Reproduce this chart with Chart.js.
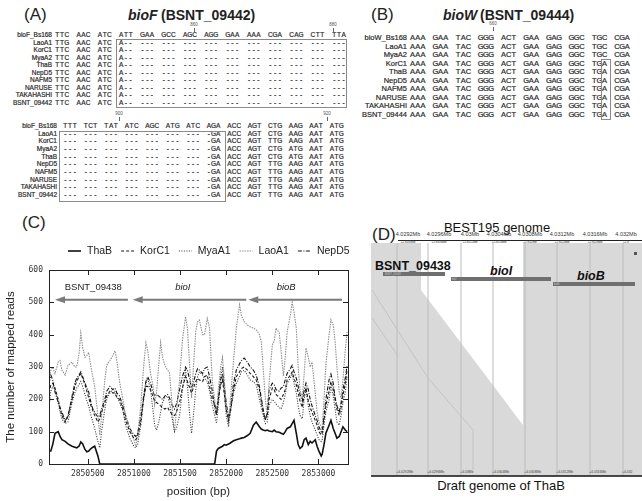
<!DOCTYPE html>
<html>
<head>
<meta charset="utf-8">
<script src="https://cdn.jsdelivr.net/npm/chart.js@4.4.0/dist/chart.umd.min.js"></script>
<style>
  body { margin: 0; width: 642px; height: 501px; background: #fff; position: relative; overflow: hidden;
         font-family: "Liberation Sans", Arial, sans-serif; color: #222; }
  .t { position: absolute; white-space: nowrap; line-height: 1; }
  .seq { color: #2a2a2a; -webkit-text-stroke: 0.2px #2a2a2a; }
  .box { position: absolute; border: 1.2px solid #8a8a8a; box-sizing: border-box; }
  #chartC { position: absolute; left: 0; top: 240px; }
  #panelD { position: absolute; left: 0; top: 0; }
</style>
</head>
<body>
<div id="aln"></div>
<svg id="panelD" width="642" height="501"></svg>
<canvas id="chartC" width="360" height="261"></canvas>
<script>
/* ---------- PANEL C DATA ---------- */
const positions = [
  2850080, 2850100, 2850120, 2850145, 2850180, 2850200, 2850220, 2850255, 2850285, 2850330,
  2850360, 2850380, 2850405, 2850425, 2850445, 2850470, 2850490, 2850510, 2850535, 2850555,
  2850575, 2850610, 2850630, 2850650, 2850685, 2850705, 2850740, 2850770, 2850795, 2850815,
  2850845, 2850880, 2850910, 2850955, 2851000, 2851020, 2851040, 2851075, 2851105, 2851130,
  2851150, 2851180, 2851205, 2851225, 2851245, 2851270, 2851290, 2851310, 2851335, 2851365,
  2851385, 2851410, 2851430, 2851440, 2851460, 2851495, 2851525, 2851560, 2851580, 2851605,
  2851625, 2851645, 2851670, 2851690, 2851710, 2851745, 2851765, 2851795, 2851820, 2851850,
  2851875, 2851895, 2851915, 2851940, 2851960, 2851980, 2852000, 2852025, 2852045, 2852080,
  2852110, 2852145, 2852165, 2852195, 2852230, 2852260, 2852295, 2852325, 2852360, 2852380,
  2852400, 2852425, 2852445, 2852465, 2852500, 2852520, 2852540, 2852575, 2852595, 2852620,
  2852640, 2852660, 2852695, 2852715, 2852735, 2852760, 2852780, 2852800, 2852825, 2852845,
  2852865, 2852890, 2852910, 2852930, 2852965, 2852985, 2853005, 2853030, 2853040, 2853060,
  2853080, 2853115, 2853135, 2853160, 2853180, 2853200, 2853225, 2853245, 2853265, 2853290, 2853310
];
const thaB = [
  40, 40, 60, 95, 100, 85, 75, 70, 62, 55,
  52, 50, 55, 68, 62, 45, 38, 40, 48, 52,
  55, 25, 0, 0, 0, 0, 0, 0, 0, 0,
  0, 0, 0, 0, 0, 0, 0, 0, 0, 0,
  0, 0, 0, 0, 0, 0, 0, 0, 0, 0,
  0, 0, 0, 0, 0, 0, 0, 0, 0, 0,
  0, 0, 0, 0, 0, 0, 0, 0, 0, 0,
  0, 40, 48, 52, 55, 60, 58, 62, 65, 72,
  75, 78, 80, 82, 88, 95, 120, 130, 115, 108,
  105, 103, 105, 102, 100, 105, 100, 98, 95, 92,
  100, 110, 115, 125, 135, 95, 60, 48, 55, 75,
  80, 60, 70, 65, 75, 55, 40, 25, 30, 60,
  95, 120, 135, 110, 95, 80, 85, 100, 115, 105, 100
];
const korC1 = [
  220, 245, 250, 235, 200, 170, 150, 130, 150, 200,
  240, 255, 270, 280, 265, 245, 225, 205, 180, 165,
  150, 130, 140, 160, 190, 210, 225, 220, 220, 205,
  200, 170, 135, 100, 80, 75, 85, 130, 200, 240,
  240, 230, 210, 195, 190, 185, 180, 175, 170, 175,
  165, 155, 150, 150, 160, 190, 235, 270, 255, 235,
  220, 235, 255, 265, 260, 255, 270, 275, 240, 200,
  185, 160, 200, 245, 260, 215, 170, 135, 160, 230,
  270, 285, 295, 300, 290, 280, 270, 260, 230, 195,
  160, 140, 150, 200, 235, 230, 215, 205, 200, 215,
  230, 260, 275, 285, 265, 245, 220, 195, 175, 215,
  235, 195, 175, 160, 135, 120, 100, 90, 95, 135,
  180, 225, 255, 230, 200, 170, 150, 175, 210, 250, 290
];
const myaA1 = [
  180, 225, 240, 230, 190, 160, 140, 125, 130, 190,
  220, 235, 245, 255, 240, 215, 195, 180, 150, 130,
  110, 70, 50, 100, 170, 200, 220, 230, 225, 210,
  190, 165, 120, 80, 55, 50, 60, 120, 200, 250,
  265, 230, 170, 120, 105, 130, 160, 190, 205, 210,
  190, 150, 115, 100, 110, 150, 230, 290, 240, 150,
  95, 150, 230, 270, 285, 275, 265, 255, 225, 180,
  150, 125, 180, 270, 300, 220, 150, 115, 160, 220,
  250, 270, 285, 290, 275, 260, 255, 245, 200, 175,
  150, 125, 130, 180, 200, 195, 185, 175, 170, 190,
  215, 250, 265, 280, 250, 220, 180, 150, 140, 200,
  230, 180, 150, 130, 105, 90, 75, 70, 75, 120,
  160, 200, 240, 210, 170, 130, 120, 150, 190, 220, 270
];
const laoA1 = [
  265, 290, 300, 280, 315, 320, 290, 275, 305, 315,
  300, 300, 340, 405, 360, 330, 335, 345, 300, 270,
  240, 150, 90, 150, 260, 306, 320, 335, 350, 320,
  254, 200, 150, 110, 75, 55, 90, 180, 300, 375,
  350, 280, 245, 183, 220, 310, 375, 330, 306, 290,
  285, 200, 120, 105, 160, 260, 380, 456, 420, 300,
  204, 300, 410, 440, 445, 400, 400, 450, 420, 254,
  200, 157, 230, 300, 330, 260, 180, 130, 200, 320,
  420, 492, 460, 440, 430, 424, 420, 415, 400, 378,
  300, 200, 147, 250, 368, 380, 420, 405, 350, 272,
  330, 408, 460, 500, 470, 420, 300, 230, 204, 280,
  359, 330, 300, 315, 220, 160, 130, 115, 111, 200,
  306, 400, 446, 430, 380, 300, 223, 204, 260, 350, 408
];
const nepD5 = [
  250, 275, 260, 223, 190, 175, 160, 135, 145, 210,
  250, 265, 275, 285, 270, 250, 235, 223, 190, 170,
  160, 145, 150, 170, 200, 225, 240, 230, 235, 220,
  210, 180, 150, 110, 90, 85, 95, 145, 210, 255,
  270, 250, 225, 210, 215, 210, 205, 200, 210, 215,
  205, 185, 175, 170, 185, 230, 270, 300, 290, 260,
  235, 250, 280, 295, 290, 280, 295, 300, 270, 225,
  175, 150, 200, 260, 280, 240, 190, 145, 170, 250,
  290, 310, 320, 328, 315, 300, 290, 275, 240, 205,
  170, 135, 160, 230, 250, 245, 230, 225, 235, 240,
  260, 280, 295, 305, 285, 265, 240, 215, 195, 230,
  250, 230, 200, 180, 150, 135, 115, 100, 105, 150,
  200, 260, 278, 250, 205, 180, 160, 190, 230, 265, 305
];
const seriesNames = ["ThaB", "KorC1", "MyaA1", "LaoA1", "NepD5"];
const xTicks = [2850500, 2851000, 2851500, 2852000, 2852500, 2853000];
const yTicks = [0, 100, 200, 300, 400, 500, 600];
// gene arrows (head at the left = lower coordinate)
const geneNames = ["BSNT_09438", "bioI", "bioB"];
const geneTail = [2850935, 2852218, 2853255];
const geneHead = [2850145, 2850987, 2852240];
const geneLabelAt = [2850560, 2851530, 2852650];
const geneArrowY = 508;
const geneLabelY = 545;

/* ---------- PANEL A / B TEXT ---------- */
const namesA = ["bioF_Bs168", "LaoA1", "KorC1", "MyaA2", "ThaB", "NepD5", "NAFM5", "NARUSE", "TAKAHASHI", "BSNT_09442"];
const bioF1 = [
  "TTC AAC ATC ATT GAA GCC AGC AGG GAA AAA CGA CAG CTT TTA",
  "TTG AAC ATC A-- --- --- --- --- --- --- --- --- --- ---",
  "TTC AAC ATC A-- --- --- --- --- --- --- --- --- --- ---",
  "TTC AAC ATC A-- --- --- --- --- --- --- --- --- --- ---",
  "TTC AAC ATC A-- --- --- --- --- --- --- --- --- --- ---",
  "TTC AAC ATC A-- --- --- --- --- --- --- --- --- --- ---",
  "TTC AAC ATC A-- --- --- --- --- --- --- --- --- --- ---",
  "TTC AAC ATC A-- --- --- --- --- --- --- --- --- --- ---",
  "TTC AAC ATC A-- --- --- --- --- --- --- --- --- --- ---",
  "TTC AAC ATC A-- --- --- --- --- --- --- --- --- --- ---"
];
const bioF2 = [
  "TTT TCT TAT ATC AGC ATG ATC AGA ACC AGT CTG AAG AAT ATG",
  "--- --- --- --- --- --- --- -GA ACC AGT CTG AAG AAT ATG",
  "--- --- --- --- --- --- --- -GA ACC AGT TTG AAG AAT ATG",
  "--- --- --- --- --- --- --- -GA ACC AGT CTG ATG AAT ATG",
  "--- --- --- --- --- --- --- -GA ACC AGT CTG ATG AAT ATG",
  "--- --- --- --- --- --- --- -GA ACC AGT TTG AAG AAT ATG",
  "--- --- --- --- --- --- --- -GA ACC AGT TTG AAG AAT ATG",
  "--- --- --- --- --- --- --- -GA ACC AGT TTG AAG AAT ATG",
  "--- --- --- --- --- --- --- -GA ACC AGT TTG AAG AAT ATG",
  "--- --- --- --- --- --- --- -GA ACC AGT TTG AAG AAT ATG"
];
const namesB = ["bioW_Bs168", "LaoA1", "MyaA2", "KorC1", "ThaB", "NepD5", "NAFM5", "NARUSE", "TAKAHASHI", "BSNT_09444"];
const bioW = [
  "AAA GAA TAC GGG ACT GAA GAG GGC TGC CGA",
  "AAA GAA TAC GGG ACT GAA GAG GGC TGC CGA",
  "AAA GAA TAC GGG ACT GAA GAG GGC TGC CGA",
  "AAA GAA TAC GGG ACT GAA GAG GGC TGA CGA",
  "AAA GAA TAC GGG ACT GAA GAG GGC TGA CGA",
  "AAA GAA TAC GGG ACT GAA GAG GGC TGA CGA",
  "AAA GAA TAC GGG ACT GAA GAG GGC TGA CGA",
  "AAA GAA TAC GGG ACT GAA GAG GGC TGA CGA",
  "AAA GAA TAC GGG ACT GAA GAG GGC TGA CGA",
  "AAA GAA TAC GGG ACT GAA GAG GGC TGA CGA"
];

const aln = document.getElementById("aln");
function txt(s, x, y, css, cls) {
  const e = document.createElement("div");
  e.className = "t" + (cls ? " " + cls : "");
  e.textContent = s;
  e.style.cssText = `left:${x}px;top:${y}px;` + (css || "");
  aln.appendChild(e);
  return e;
}
function box(x, y, w, h) {
  const e = document.createElement("div");
  e.className = "box";
  e.style.cssText = `left:${x}px;top:${y}px;width:${w}px;height:${h}px;`;
  aln.appendChild(e);
}
// one block of alignment, every letter in its own cell
function block(names, rows, nameRight, x0, pitch, cw, y0, dy, fs) {
  names.forEach((n, r) => {
    const y = y0 + r * dy;
    txt(n, nameRight, y, `font-size:${fs}px;transform:translate(-100%,-50%);`, "seq");
    rows[r].split(" ").forEach((cod, i) => {
      [...cod].forEach((ch, j) => {
        txt(ch, x0 + i * pitch + j * cw + cw / 2, y, `font-size:${fs}px;transform:translate(-50%,-50%);`, "seq");
      });
    });
  });
}
function marker(label, x, y) {
  txt(label, x, y, "font-size:4.5px;transform:translate(-50%,0);color:#555;");
  const l = document.createElement("div");
  l.style.cssText = `position:absolute;left:${x - 0.5}px;top:${y + 5}px;width:1px;height:4px;background:#666;`;
  aln.appendChild(l);
}

// (A)
txt("(A)", 24, 6, "font-size:17px;");
txt("bioF", 128, 8, "font-size:14px;font-weight:bold;font-style:italic;");
txt("(BSNT_09442)", 161, 8, "font-size:14px;font-weight:bold;");
marker("860", 194, 23);
marker("880", 333, 23);
block(namesA, bioF1, 52, 55, 21.3, 4.7, 35, 7.55, 6.5);
box(116, 38.5, 231, 69);
marker("900", 119, 112);
marker("920", 327, 112);
block(namesA, bioF2, 57, 63, 20.5, 4.7, 126, 7.65, 6.5);
box(58.5, 130.5, 167, 71);

// (B)
txt("(B)", 371, 6, "font-size:17px;");
txt("bioW", 443, 8, "font-size:14px;font-weight:bold;font-style:italic;");
txt("(BSNT_09444)", 480, 8, "font-size:14px;font-weight:bold;");
marker("660", 493, 22);
block(namesB, bioW, 407, 410, 22.7, 5.2, 38, 8.55, 7.5);
box(601, 59, 10, 61);

// (C) and (D) labels
txt("(C)", 22, 214, "font-size:17px;");
txt("(D)", 372, 226, "font-size:17px;");

/* ---------- PANEL D ---------- */
const svgNS = "http://www.w3.org/2000/svg";
const svg = document.getElementById("panelD");
function el(tag, attrs, text) {
  const e = document.createElementNS(svgNS, tag);
  for (const k in attrs) e.setAttribute(k, attrs[k]);
  if (text) e.textContent = text;
  svg.appendChild(e);
  return e;
}
const topLabels = ["4.0292Mb", "4.0296Mb", "4.03Mb", "4.0304Mb", "4.0308Mb", "4.0312Mb", "4.0316Mb", "4.032Mb"];
const topSub = ["+2.8508Mb", "+2.8508Mb", "+2.8512Mb", "+2.8516Mb", "+2.852Mb", "+2.8524Mb", "+2.8528Mb", "+2.8"];
const topLabelX = [408, 439, 470, 499, 530, 562, 595, 626];
const botLabels = ["+4.0292Mb", "+4.0296Mb", "+4.03Mb", "+4.0304Mb", "+4.0308Mb", "+4.0312Mb", "+4.0316Mb", "+4.032"];
const gridX = [397, 428, 461, 493, 525, 557, 590, 623];

el("rect", { x: 371, y: 243, width: 271, height: 233, fill: "#d9d9d9" });
el("polygon", { points: "421,243 523,243 523,425 421,290", fill: "#fff" });
gridX.forEach(x => el("line", { x1: x, y1: 243, x2: x, y2: 476, stroke: "#bcbcbc", "stroke-width": 1 }));
el("polyline", { points: "372,290 428,378 473,430 473,470", fill: "none", stroke: "#c4c4c4", "stroke-width": 1 });
el("line", { x1: 372, y1: 318, x2: 398, y2: 356, stroke: "#c4c4c4", "stroke-width": 1 });
el("line", { x1: 398, y1: 240.5, x2: 642, y2: 240.5, stroke: "#222", "stroke-width": 1 });
topLabels.forEach((s, i) => {
  el("text", { x: topLabelX[i], y: 236, "font-size": 5.5, "text-anchor": "middle", fill: "#333", "font-family": "Liberation Sans" }, s);
  el("text", { x: topLabelX[i], y: 242.5, "font-size": 3, "text-anchor": "middle", fill: "#333", "font-family": "Liberation Sans" }, topSub[i]);
});
el("text", { x: 497, y: 232, "font-size": 13, "text-anchor": "middle", fill: "#111", "font-family": "Liberation Sans" }, "BEST195 genome");
el("line", { x1: 371, y1: 476, x2: 642, y2: 476, stroke: "#111", "stroke-width": 1.5 });
botLabels.forEach((s, i) => {
  el("text", { x: gridX[i] - 1, y: 473, "font-size": 3.4, fill: "#444", "font-family": "Liberation Sans" }, s);
});
el("text", { x: 501, y: 490, "font-size": 13, "text-anchor": "middle", fill: "#111", "font-family": "Liberation Sans" }, "Draft genome of ThaB");
// gene bars
el("rect", { x: 383, y: 272, width: 62, height: 4, fill: "#6f6f6f" });
el("rect", { x: 451, y: 277, width: 100, height: 4, fill: "#6f6f6f" });
el("rect", { x: 553, y: 282, width: 82, height: 4, fill: "#6f6f6f" });
el("rect", { x: 634, y: 252, width: 3, height: 3, fill: "#555" });
el("text", { x: 385, y: 275, "font-size": 2.6, fill: "#ccc", "font-family": "Liberation Sans" }, "BSNT_09438");
el("text", { x: 452, y: 280, "font-size": 2.6, fill: "#ccc", "font-family": "Liberation Sans" }, "bioI");
el("text", { x: 554, y: 285, "font-size": 2.6, fill: "#ccc", "font-family": "Liberation Sans" }, "bioB");
el("text", { x: 375, y: 270, "font-size": 12.5, "font-weight": "bold", fill: "#111", "font-family": "Liberation Sans" }, "BSNT_09438");
el("text", { x: 490, y: 275, "font-size": 12.5, "font-weight": "bold", "font-style": "italic", fill: "#111", "font-family": "Liberation Sans" }, "bioI");
el("text", { x: 577, y: 280, "font-size": 12.5, "font-weight": "bold", "font-style": "italic", fill: "#111", "font-family": "Liberation Sans" }, "bioB");

/* ---------- PANEL C CHART ---------- */
const pts = vals => positions.map((p, i) => ({ x: p, y: vals[i] }));
const styles = [
  { data: thaB, color: "#111", width: 1.6, dash: [] },
  { data: korC1, color: "#1a1a1a", width: 1.1, dash: [3, 2] },
  { data: myaA1, color: "#333", width: 1.1, dash: [1, 1.5] },
  { data: laoA1, color: "#8f8f8f", width: 1.1, dash: [1.5, 1] },
  { data: nepD5, color: "#111", width: 1.1, dash: [4, 1.5, 1, 1.5] }
];

const framePlugin = {
  id: "frame",
  afterDatasetsDraw(chart) {
    const { ctx, chartArea: a, scales } = chart;
    ctx.save();
    ctx.strokeStyle = "#222";
    ctx.lineWidth = 1;
    ctx.setLineDash([]);
    ctx.strokeRect(a.left + 0.5, a.top + 0.5, a.width, a.height);
    ctx.beginPath();
    xTicks.forEach(v => {
      const x = Math.round(scales.x.getPixelForValue(v)) + 0.5;
      ctx.moveTo(x, a.bottom); ctx.lineTo(x, a.bottom - 5);
      ctx.moveTo(x, a.top); ctx.lineTo(x, a.top + 5);
    });
    yTicks.forEach(v => {
      const y = Math.round(scales.y.getPixelForValue(v)) + 0.5;
      ctx.moveTo(a.left, y); ctx.lineTo(a.left + 5, y);
      ctx.moveTo(a.right, y); ctx.lineTo(a.right - 5, y);
    });
    ctx.stroke();
    // gene arrows
    const yA = scales.y.getPixelForValue(geneArrowY);
    const yL = scales.y.getPixelForValue(geneLabelY);
    ctx.strokeStyle = "#7a7a7a";
    ctx.fillStyle = "#7a7a7a";
    ctx.lineWidth = 1.8;
    geneNames.forEach((g, i) => {
      const xt = scales.x.getPixelForValue(geneTail[i]);
      const xh = scales.x.getPixelForValue(geneHead[i]);
      ctx.beginPath(); ctx.moveTo(xt, yA); ctx.lineTo(xh + 8, yA); ctx.stroke();
      ctx.beginPath(); ctx.moveTo(xh, yA); ctx.lineTo(xh + 10, yA - 3.5); ctx.lineTo(xh + 10, yA + 3.5); ctx.closePath(); ctx.fill();
      ctx.fillStyle = "#222";
      ctx.font = (i === 0 ? "" : "italic ") + "9.5px 'Liberation Sans'";
      ctx.textAlign = "center"; ctx.textBaseline = "middle";
      ctx.fillText(g, scales.x.getPixelForValue(geneLabelAt[i]), yL);
      ctx.fillStyle = "#7a7a7a";
    });
    ctx.restore();
  },
  afterDraw(chart) {
    // legend row
    const { ctx } = chart;
    ctx.save();
    ctx.font = "10.5px 'Liberation Sans'";
    ctx.textBaseline = "middle";
    let x = 68;
    const y = 11;
    chart.data.datasets.forEach(ds => {
      ctx.strokeStyle = ds.borderColor;
      ctx.lineWidth = ds.borderWidth;
      ctx.setLineDash(ds.borderDash);
      ctx.beginPath(); ctx.moveTo(x, y); ctx.lineTo(x + 13, y); ctx.stroke();
      ctx.setLineDash([]);
      ctx.fillStyle = "#222";
      ctx.fillText(ds.label, x + 19, y);
      x += 19 + ctx.measureText(ds.label).width + 9;
    });
    ctx.restore();
  }
};

new Chart(document.getElementById("chartC"), {
  type: "line",
  data: {
    datasets: styles.map((s, i) => ({
      label: seriesNames[i],
      data: pts(s.data),
      borderColor: s.color,
      borderWidth: s.width,
      borderDash: s.dash,
      pointRadius: 0,
      tension: 0,
      fill: false
    }))
  },
  options: {
    responsive: false,
    animation: false,
    layout: { padding: { top: 30, right: 12, left: 0, bottom: 0 } },
    plugins: { legend: { display: false }, tooltip: { enabled: false } },
    scales: {
      x: {
        type: "linear",
        min: 2850080,
        max: 2853320,
        afterBuildTicks: s => { s.ticks = xTicks.map(v => ({ value: v })); },
        afterFit: s => { s.height = 37; },
        grid: { display: false, drawTicks: false },
        border: { display: false },
        ticks: { font: { family: "DejaVu Sans Mono", size: 8 }, color: "#333", padding: 5, maxRotation: 0, autoSkip: false, callback: v => String(v) },
        title: { display: true, text: "position (bp)", color: "#222", font: { family: "Liberation Sans", size: 11.5 }, padding: { top: 0, bottom: 2 } }
      },
      y: {
        min: 0,
        max: 600,
        afterBuildTicks: s => { s.ticks = yTicks.map(v => ({ value: v })); },
        afterFit: s => { s.width = 49; },
        grid: { display: false, drawTicks: false },
        border: { display: false },
        ticks: { font: { family: "DejaVu Sans Mono", size: 8 }, color: "#333", padding: 6, callback: v => String(v) },
        title: { display: true, text: "The number of mapped reads", color: "#222", font: { family: "Liberation Sans", size: 11.5 }, padding: { top: 4, bottom: 0 } }
      }
    }
  },
  plugins: [framePlugin]
});
</script>
</body>
</html>
